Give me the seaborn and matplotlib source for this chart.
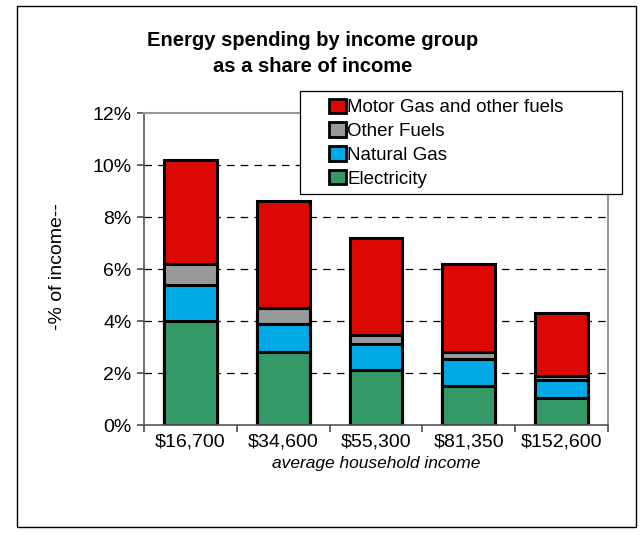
import matplotlib
matplotlib.use("Agg")
import matplotlib.pyplot as plt
import seaborn as sns
import pandas as pd
import numpy as np
from matplotlib.patches import Patch, Rectangle
from matplotlib.ticker import FuncFormatter

categories = ["$16,700", "$34,600", "$55,300", "$81,350", "$152,600"]
electricity = [4.0, 2.8, 2.1, 1.5, 1.05]
natural_gas = [1.4, 1.1, 1.0, 1.05, 0.7]
other_fuels = [0.8, 0.6, 0.35, 0.25, 0.15]
motor_gas = [4.0, 4.1, 3.75, 3.4, 2.4]

series = ["Electricity", "Natural Gas", "Other Fuels", "Motor Gas and other fuels"]
colors = {"Electricity": "#339966", "Natural Gas": "#00aae6",
          "Other Fuels": "#999999", "Motor Gas and other fuels": "#dd0806"}

sns.set_theme(style="white")
plt.rcParams['font.family'] = ['Liberation Sans', 'DejaVu Sans']
plt.rcParams['text.color'] = 'black'
plt.rcParams['axes.labelcolor'] = 'black'
plt.rcParams['xtick.color'] = 'black'
plt.rcParams['ytick.color'] = 'black'

fig = plt.figure(figsize=(6.42, 5.35), dpi=100)
ax = fig.add_axes([144/642, 1-425/535, (608-144)/642, (425-113)/535])

vals = [electricity, natural_gas, other_fuels, motor_gas]
cum = np.cumsum(np.array(vals), axis=0)
# draw from tallest cumulative to shortest
for i in reversed(range(len(series))):
    df = pd.DataFrame({"cat": categories, "val": cum[i]})
    sns.barplot(data=df, x="cat", y="val", color=colors[series[i]], ax=ax,
                width=0.57, edgecolor="black", linewidth=2.2, saturation=1)

ax.set_ylim(0, 12)
ax.set_xlim(-0.5, 4.5)
ax.set_yticks(range(0, 13, 2))
ax.yaxis.set_major_formatter(FuncFormatter(lambda v, p: f"{int(v)}%"))
for y in range(2, 12, 2):
    ax.axhline(y, color="black", linestyle=(0, (6, 5)), linewidth=0.9, zorder=0.5)
ax.set_axisbelow(True)

for s in ["top", "right"]:
    ax.spines[s].set_color("#999999")
    ax.spines[s].set_linewidth(1.5)
for s in ["left", "bottom"]:
    ax.spines[s].set_color("#555555")
    ax.spines[s].set_linewidth(1.2)

ax.set_xticks(np.arange(-0.5, 5, 1), minor=False)
ax.set_xticklabels([])
ax.set_xticks(range(5), minor=True)
ax.set_xticklabels(categories, minor=True, fontsize=14)
ax.tick_params(axis="x", which="minor", length=0, pad=6)
ax.tick_params(axis="x", which="major", length=5, color="#555555", direction="out", bottom=True)
ax.tick_params(axis="y", length=5, color="#555555", direction="out", left=True, labelsize=14, pad=4)

ax.set_xlabel("average household income", fontsize=12.5, style="italic", labelpad=4)
ax.set_ylabel("")
fig.text(58/642, 1-267/535, "-% of income--", rotation=90, ha="center", va="center",
         fontsize=14)

fig.text(0.487, 1-40/535, "Energy spending by income group", ha="center", va="center",
         fontsize=14.5, fontweight="bold")
fig.text(0.487, 1-67/535, "as a share of income", ha="center", va="center",
         fontsize=14.5, fontweight="bold")

# legend box
box = Rectangle((300/642, 1-194/535), (622-300)/642, (194-91)/535,
                transform=fig.transFigure, facecolor="white", edgecolor="black",
                linewidth=0.9, zorder=9)
fig.patches.append(box)
handles = [Patch(facecolor=colors[s], edgecolor="black", linewidth=2) for s in reversed(series)]
leg = fig.legend(handles, list(reversed(series)), loc="upper left",
                 bbox_to_anchor=(322/642, 1-91/535), frameon=False,
                 fontsize=13.5, handlelength=0.9, handleheight=0.8,
                 handletextpad=0.05, labelspacing=0.33, borderpad=0.4, borderaxespad=0)
leg.set_zorder(10)

fig.patches.append(Rectangle((17/642, 1-527/535), (636-17)/642, (527-6)/535,
                             transform=fig.transFigure, fill=False, edgecolor="black",
                             linewidth=1))

fig.savefig("out.png", dpi=100)
